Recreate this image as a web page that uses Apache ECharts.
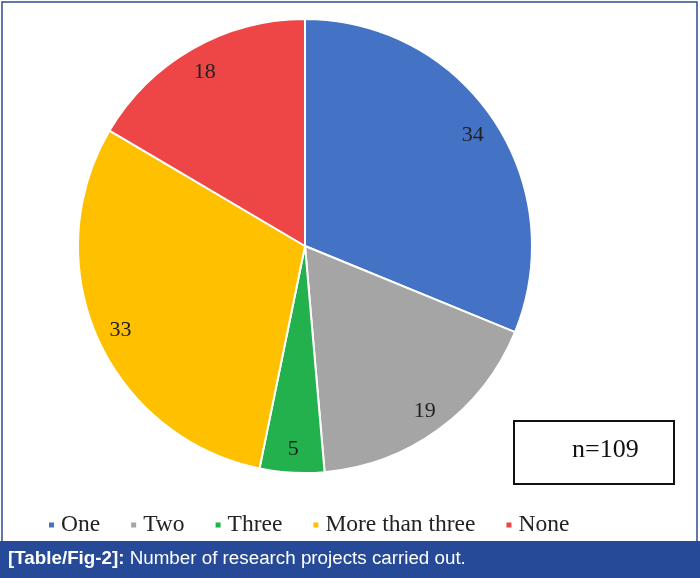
<!DOCTYPE html>
<html><head><meta charset="utf-8">
<script src="https://cdn.jsdelivr.net/npm/echarts@6/dist/echarts.min.js"></script>
<style>html,body{margin:0;padding:0;background:#fff}#c{width:700px;height:578px}</style>
</head><body><div id="c"></div>
<script>
const categories = ['One', 'Two', 'Three', 'More than three', 'None'];
const values = [34, 19, 5, 33, 18];
const colors = ['#4472C4', '#A5A5A5', '#22B14C', '#FFC000', '#EE4646'];
const totalLabel = 'n=109';
const captionBold = '[Table/Fig-2]:';
const captionText = ' Number of research projects carried out.';

const data = categories.map((n, i) => ({ name: n, value: values[i], itemStyle: { color: colors[i] } }));
const chart = echarts.init(document.getElementById('c'));
chart.setOption({
  animation: false,
  legend: {
    top: 508, left: 42,
    itemWidth: 7, itemHeight: 7, itemGap: 29, icon: 'rect',
    textStyle: { fontFamily: 'Liberation Serif', fontSize: 23.5, color: '#222', padding: [0, 0, 0, 1] },
    data: categories
  },
  graphic: [
    { type: 'rect', shape: { x: 2, y: 2, width: 695, height: 560 }, style: { fill: 'none', stroke: '#2c4f8a', lineWidth: 1.5 }, z: -1 },
    { type: 'rect', shape: { x: 0, y: 541, width: 700, height: 37 }, style: { fill: '#264a97' } },
    { type: 'text', left: 8, top: 549, style: { text: '{b|' + captionBold + '}{n|' + captionText + '}', rich: {
      b: { fontFamily: 'Liberation Sans', fontWeight: 'bold', fontSize: 18.8, fill: '#fff' },
      n: { fontFamily: 'Liberation Sans', fontSize: 18.8, fill: '#fff' } } } },
    { type: 'rect', shape: { x: 514, y: 421, width: 160, height: 63 }, style: { fill: '#fff', stroke: '#111', lineWidth: 2 } },
    { type: 'text', left: 572, top: 437, style: { text: totalLabel, fontFamily: 'Liberation Serif', fontSize: 26, fill: '#111' } }
  ],
  series: [
    {
      type: 'pie', center: [305, 246], radius: [0, 227], startAngle: 90, clockwise: true,
      itemStyle: { borderColor: '#fff', borderWidth: 2 },
      label: { show: false }, labelLine: { show: false }, silent: true,
      data: data
    },
    {
      type: 'pie', center: [305, 248], radius: [172, 226], startAngle: 90, clockwise: true, silent: true,
      itemStyle: { color: 'transparent', borderWidth: 0 },
      label: { show: true, position: 'inside', formatter: '{c}', fontFamily: 'Liberation Serif', fontSize: 22, color: '#222' },
      labelLine: { show: false },
      data: categories.map((n, i) => ({ name: n, value: values[i], itemStyle: { color: 'transparent' } }))
    }
  ]
});
</script></body></html>
